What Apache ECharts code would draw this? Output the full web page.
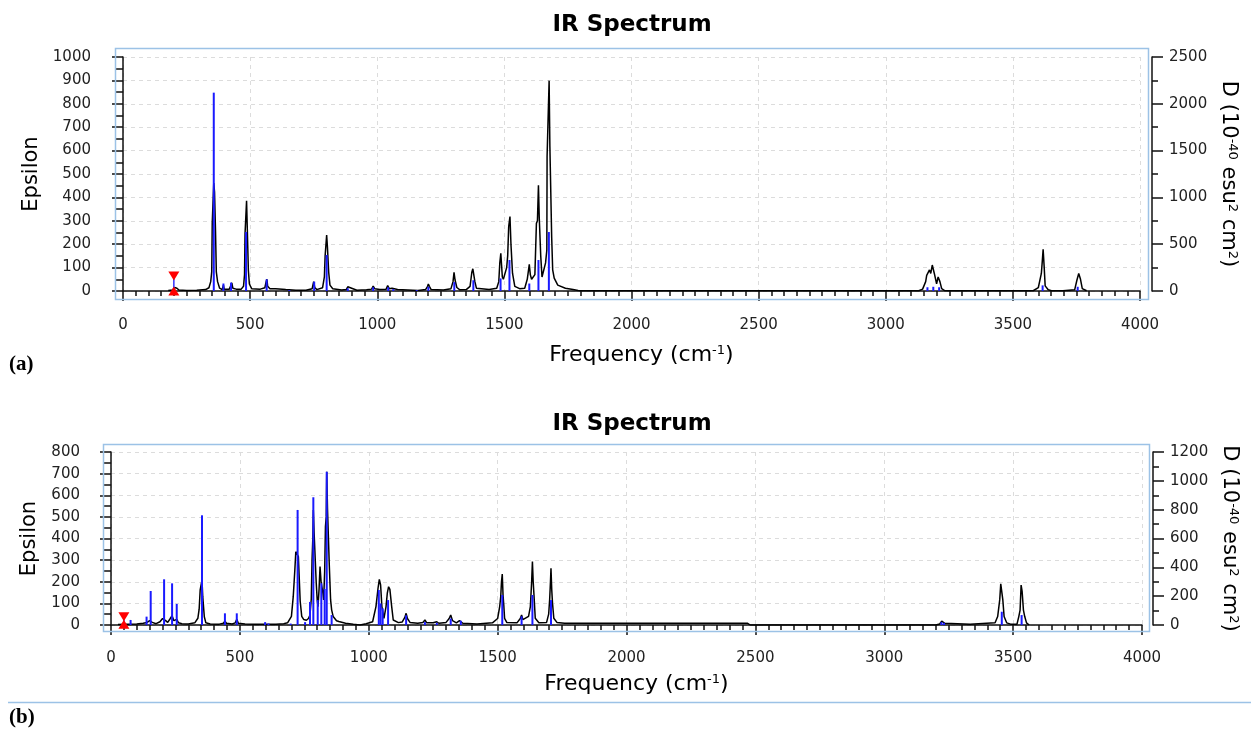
<!DOCTYPE html>
<html>
<head>
<meta charset="utf-8">
<title>IR Spectrum</title>
<script src="https://cdn.jsdelivr.net/npm/echarts@6/dist/echarts.min.js"></script>
<style>
  html, body { margin: 0; padding: 0; background: #fff; }
  #chart { width: 1251px; height: 733px; }
</style>
</head>
<body>
<div id="chart"></div>
<script>
// (a) broadened spectrum, [frequency cm-1, epsilon]
const topCurve = [
  [178,2],[195,4],[203,15],[207,20],[212,12],[220,4],[250,2],[290,3],[325,6],[338,14],[345,40],[349,82],
  [351,290],[355,290],[357,461],[360,424],[363,424],[364,250],[367,82],[372,40],[380,12],[390,6],[395,25],
  [398,8],[418,8],[425,25],[428,35],[432,12],[445,8],[465,8],[474,20],[478,70],[480,245],[484,245],[486,386],
  [489,262],[491,262],[493,90],[497,30],[506,10],[540,8],[558,14],[563,40],[566,50],[569,20],[578,10],[600,10],
  [640,6],[680,3],[720,3],[744,10],[750,40],[754,15],[762,6],[785,14],[792,60],[795,150],[799,150],[801,239],
  [804,189],[807,189],[809,80],[814,25],[825,10],[860,4],[878,6],[884,18],[890,10],[920,3],[958,5],[978,8],
  [984,21],[990,10],[1010,6],[1035,8],[1041,23],[1047,10],[1058,12],[1065,8],[1080,6],[1120,4],[1160,2],
  [1190,6],[1198,20],[1201,30],[1205,20],[1212,6],[1260,4],[1290,10],[1298,40],[1302,80],[1306,47],[1309,47],
  [1313,15],[1325,5],[1350,6],[1365,20],[1372,80],[1376,95],[1380,95],[1384,40],[1390,12],[1440,6],[1470,12],
  [1478,40],[1482,120],[1486,161],[1489,110],[1492,60],[1496,50],[1502,54],[1509,100],[1513,150],[1517,275],
  [1522,318],[1526,197],[1532,76],[1541,20],[1560,10],[1580,12],[1590,50],[1598,114],[1602,70],[1607,50],
  [1612,55],[1620,70],[1626,289],[1630,300],[1634,452],[1637,318],[1640,318],[1643,150],[1648,60],[1655,54],
  [1662,120],[1667,175],[1668,574],[1672,574],[1676,899],[1679,617],[1682,617],[1686,232],[1690,90],[1696,55],
  [1710,25],[1740,12],[1770,6],[1790,2],[1800,1],[3130,1],[3145,8],[3157,40],[3161,67],[3165,67],[3172,90],
  [3177,75],[3183,111],[3191,75],[3200,31],[3206,60],[3213,40],[3220,10],[3233,1],[3580,1],[3600,14],[3612,75],
  [3616,132],[3619,178],[3623,104],[3627,22],[3639,5],[3652,1],[3697,1],[3698,4],[3743,5],[3752,47],[3759,75],
  [3766,50],[3773,10],[3790,1]
];
// (a) computed intensities (D, 10^-40 esu^2 cm^2)
const topStickFreq = [357, 395, 425, 484, 565, 654, 752, 801, 884, 984, 1043, 1063, 1155, 1201, 1303, 1378,
  1485, 1520, 1598, 1634, 1675, 3164, 3187, 3210, 3617, 3755];
const topStickD = [2119, 80, 90, 630, 125, 10, 100, 385, 30, 40, 40, 20, 10, 45, 95, 115,
  135, 331, 80, 331, 630, 40, 45, 40, 60, 45];
const topMarker = [[200, 64], [200, 0]];

// (b) broadened spectrum, [frequency cm-1, epsilon]
const botCurve = [
  [27,2],[60,4],[100,5],[125,8],[140,12],[150,20],[154,26],[160,12],[175,6],[190,15],[200,30],[206,38],
  [212,20],[220,12],[230,30],[237,43],[244,20],[250,20],[255,26],[262,10],[275,6],[300,5],[325,10],[337,31],
  [342,73],[346,162],[350,162],[353,208],[356,131],[359,131],[362,38],[368,10],[385,5],[420,4],[436,8],
  [442,18],[448,8],[470,5],[482,10],[488,26],[494,8],[520,5],[560,3],[600,3],[640,4],[670,6],[685,10],
  [700,40],[707,131],[713,250],[717,339],[720,339],[724,339],[727,316],[731,316],[734,110],[740,40],[748,25],
  [758,22],[766,30],[772,46],[777,120],[780,300],[783,400],[785,532],[788,427],[792,427],[796,200],[800,116],
  [803,85],[807,160],[811,270],[815,200],[819,196],[822,150],[825,116],[829,250],[832,455],[835,500],
  [837,709],[840,535],[843,535],[847,274],[852,116],[856,70],[862,39],[875,20],[884,16],[910,8],[940,3],
  [966,0],[990,6],[1015,15],[1028,85],[1036,170],[1041,211],[1046,185],[1051,85],[1059,31],[1067,85],
  [1072,147],[1077,177],[1082,165],[1089,85],[1095,23],[1115,11],[1130,14],[1140,35],[1145,54],[1150,30],
  [1160,12],[1190,8],[1210,12],[1218,23],[1225,10],[1250,10],[1264,15],[1272,8],[1300,12],[1312,30],
  [1318,46],[1325,20],[1340,10],[1352,20],[1357,26],[1365,8],[1420,5],[1480,10],[1500,30],[1508,85],
  [1512,130],[1515,200],[1518,236],[1521,139],[1524,90],[1527,31],[1536,11],[1575,10],[1588,30],[1593,46],
  [1598,25],[1605,20],[1620,40],[1627,85],[1632,200],[1635,293],[1638,200],[1641,140],[1646,31],[1660,10],
  [1690,12],[1698,50],[1702,120],[1705,200],[1707,262],[1710,162],[1713,100],[1718,31],[1730,12],[1760,8],
  [2470,8],[2480,0],[3200,0],[3215,5],[3223,18],[3229,18],[3235,8],[3333,4],[3340,10],[3430,10],[3440,39],
  [3448,116],[3452,190],[3456,190],[3460,116],[3465,39],[3475,10],[3490,4],[3515,4],[3522,39],[3527,69],
  [3531,185],[3535,154],[3540,69],[3545,39],[3552,10],[3562,0]
];
const botStickFreq = [76, 138, 154, 206, 237, 255, 353, 442, 488, 598, 611, 697, 724, 753, 772, 785, 802,
  816, 829, 837, 856, 1039, 1046, 1054, 1075, 1145, 1218, 1264, 1318, 1357, 1518, 1593, 1635, 1707, 3222,
  3232, 3456, 3533];
const botStickD = [35, 58, 236, 317, 289, 146, 761, 81, 81, 20, 10, 10, 798, 20, 160, 886, 173,
  290, 250, 1063, 69, 243, 150, 116, 173, 67, 20, 15, 45, 30, 208, 60, 208, 173, 20,
  15, 92, 69];
const botMarker = [[50, 38], [50, 3]];

const FONT = 'DejaVu Sans';
const INK = '#111';
const BOX = '#9cc2e6';
const GRIDLINE = '#dcdcdc';

const chart = echarts.init(document.getElementById('chart'));

const supRich = {
  s: { fontSize: 13, fontFamily: FONT, color: '#000', verticalAlign: 'top', lineHeight: 13 }
};
const plain = (v) => String(v);

function freqAxis(gridIndex, offset, nameGap) {
  return {
    type: 'value', gridIndex, position: 'bottom', offset,
    min: 0, max: 4000, interval: 500,
    name: 'Frequency (cm{s|-1})', nameLocation: 'middle', nameGap,
    nameTextStyle: { fontFamily: FONT, fontSize: 22, color: '#000', padding: [0, 0, 0, 20], rich: supRich },
    axisLine: { show: true, lineStyle: { color: INK, width: 1.5 } },
    axisTick: { show: true, length: 10, lineStyle: { color: INK, width: 1.5 } },
    minorTick: { show: true, splitNumber: 10, length: 5, lineStyle: { color: INK, width: 1.5 } },
    axisLabel: { fontFamily: FONT, fontSize: 15, color: '#222', margin: 15, formatter: plain },
    splitLine: { show: true, lineStyle: { color: GRIDLINE, type: [4, 4] } }
  };
}

function epsAxis(gridIndex, max, offset, nameGap) {
  return {
    type: 'value', gridIndex, position: 'left', offset,
    min: 0, max, interval: 100,
    name: 'Epsilon', nameLocation: 'middle', nameRotate: 90, nameGap,
    nameTextStyle: { fontFamily: FONT, fontSize: 21, color: '#000' },
    axisLine: { show: true, lineStyle: { color: INK, width: 1.5 } },
    axisTick: { show: true, length: 11, lineStyle: { color: INK, width: 1.5 } },
    minorTick: { show: true, splitNumber: 2, length: 7, lineStyle: { color: INK, width: 1.5 } },
    axisLabel: { fontFamily: FONT, fontSize: 15, color: '#222', margin: 19, formatter: plain },
    splitLine: { show: true, lineStyle: { color: GRIDLINE, type: [4, 4] } }
  };
}

function dAxis(gridIndex, max, interval, offset, nameGap) {
  return {
    type: 'value', gridIndex, position: 'right', offset,
    min: 0, max, interval,
    name: 'D (10{s|-40} esu{s|2} cm{s|2})', nameLocation: 'middle', nameRotate: -90, nameGap,
    nameTextStyle: { fontFamily: FONT, fontSize: 21, color: '#000', rich: supRich },
    axisLine: { show: true, lineStyle: { color: INK, width: 1.5 } },
    axisTick: { show: true, length: 11, lineStyle: { color: INK, width: 1.5 } },
    minorTick: { show: true, splitNumber: 2, length: 6, lineStyle: { color: INK, width: 1.5 } },
    axisLabel: { fontFamily: FONT, fontSize: 15, color: '#222', margin: 17, formatter: plain },
    splitLine: { show: false }
  };
}

function sticks(freq, d) {
  return freq.map((f, i) => [f, d[i]]);
}

function markerSeries(xAxisIndex, yAxisIndex, data) {
  return {
    type: 'line', xAxisIndex, yAxisIndex, data, clip: false, z: 5,
    symbol: 'triangle', symbolSize: [11, 9], showSymbol: true,
    symbolRotate: (val) => (val[1] > 10 ? 180 : 0),
    itemStyle: { color: '#ff0000' },
    lineStyle: { color: '#3030ff', width: 1.5 }
  };
}

const option = {
  backgroundColor: '#fff',
  animation: false,
  grid: [
    { left: 123, right: 111, top: 57, height: 234 },
    { left: 111, right: 109, top: 452, height: 173 }
  ],
  xAxis: [freqAxis(0, 12, 41), freqAxis(1, 11, 37)],
  yAxis: [
    epsAxis(0, 1000, 13, 64),
    dAxis(0, 2500, 500, 12, 62),
    epsAxis(1, 800, 12, 51),
    dAxis(1, 1200, 200, 11, 64)
  ],
  series: [
    {
      type: 'line', xAxisIndex: 0, yAxisIndex: 0, data: topCurve,
      showSymbol: false, lineStyle: { color: '#000', width: 1.5 }, z: 2
    },
    {
      type: 'bar', xAxisIndex: 0, yAxisIndex: 1, data: sticks(topStickFreq, topStickD),
      barWidth: 2, itemStyle: { color: '#1a1aff' }, z: 3
    },
    markerSeries(0, 0, topMarker),
    {
      type: 'line', xAxisIndex: 1, yAxisIndex: 2, data: botCurve,
      showSymbol: false, lineStyle: { color: '#000', width: 1.5 }, z: 2
    },
    {
      type: 'bar', xAxisIndex: 1, yAxisIndex: 3, data: sticks(botStickFreq, botStickD),
      barWidth: 2, itemStyle: { color: '#1a1aff' }, z: 3
    },
    markerSeries(1, 2, botMarker)
  ],
  graphic: [
    { type: 'rect', shape: { x: 115.5, y: 48.5, width: 1033, height: 251 }, style: { fill: 'none', stroke: BOX, lineWidth: 1.5 }, z: 1, silent: true },
    { type: 'rect', shape: { x: 103.5, y: 444.5, width: 1046, height: 187 }, style: { fill: 'none', stroke: BOX, lineWidth: 1.5 }, z: 1, silent: true },
    { type: 'line', shape: { x1: 8, y1: 702.5, x2: 1251, y2: 702.5 }, style: { stroke: BOX, lineWidth: 1.5 }, silent: true },
    { type: 'text', x: 632, y: 25, style: { text: 'IR Spectrum', font: 'bold 23px "DejaVu Sans"', fill: '#000', align: 'center', verticalAlign: 'middle' } },
    { type: 'text', x: 632, y: 424, style: { text: 'IR Spectrum', font: 'bold 23px "DejaVu Sans"', fill: '#000', align: 'center', verticalAlign: 'middle' } },
    { type: 'text', x: 9, y: 365, style: { text: '(a)', font: 'bold 21px "Liberation Serif"', fill: '#000', align: 'left', verticalAlign: 'middle' } },
    { type: 'text', x: 9, y: 718, style: { text: '(b)', font: 'bold 21px "Liberation Serif"', fill: '#000', align: 'left', verticalAlign: 'middle' } }
  ]
};

chart.setOption(option);
</script>
</body>
</html>
